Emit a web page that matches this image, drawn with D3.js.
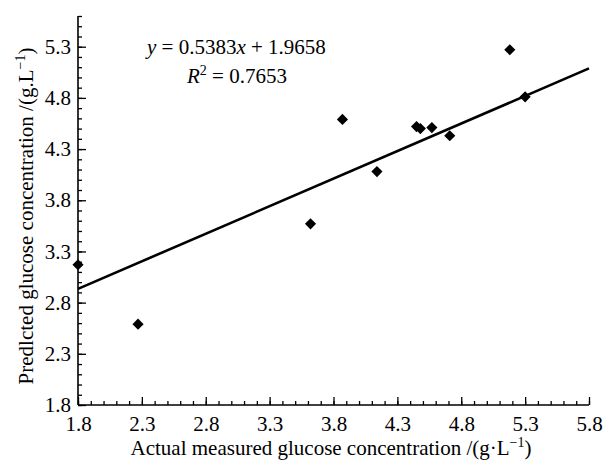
<!DOCTYPE html>
<html>
<head>
<meta charset="utf-8">
<script src="https://cdn.jsdelivr.net/npm/d3@7"></script>
<style>
  body { margin: 0; background: #fff; }
  svg text { font-family: "Liberation Serif", "Times New Roman", serif; fill: #000; }
</style>
</head>
<body>
<div id="chart"></div>
<script>
// measured vs predicted glucose (g/L)
const actualValues = [1.80, 2.27, 3.62, 3.87, 4.14, 4.45, 4.48, 4.57, 4.71, 5.18, 5.30];
const predictedValues = [3.17, 2.59, 3.57, 4.59, 4.08, 4.52, 4.50, 4.51, 4.43, 5.27, 4.81];
const xTickValues = [1.8, 2.3, 2.8, 3.3, 3.8, 4.3, 4.8, 5.3, 5.8];
const yTickValues = [1.8, 2.3, 2.8, 3.3, 3.8, 4.3, 4.8, 5.3];
const slope = 0.5383;
const intercept = 1.9658;

const width = 606;
const height = 464;

const x = d3.scaleLinear().domain([1.8, 5.8]).range([78, 589]);
const y = d3.scaleLinear().domain([1.8, 5.6]).range([405, 16]);

const svg = d3.select('#chart')
  .append('svg')
  .attr('width', width)
  .attr('height', height);

// minor ticks every 0.1
const xMinor = d3.range(18, 59).map(d => d / 10);
const yMinor = d3.range(18, 57).map(d => d / 10);

const xAxis = svg.append('g')
  .attr('transform', `translate(0,${y(1.8)})`)
  .call(d3.axisBottom(x).tickValues(xMinor).tickSize(-4).tickFormat(''));
xAxis.select('.domain').remove();
xAxis.selectAll('line').attr('stroke', '#000').attr('stroke-width', 1.3);

const xMajor = svg.append('g')
  .attr('transform', `translate(0,${y(1.8)})`)
  .call(d3.axisBottom(x).tickValues(xTickValues).tickSize(-8).tickPadding(11).tickFormat(d3.format('.1f')));
xMajor.select('.domain').remove();
xMajor.selectAll('line').attr('stroke', '#000').attr('stroke-width', 1.3);
xMajor.selectAll('text').style('font-size', '21px');

const yAxis = svg.append('g')
  .attr('transform', `translate(${x(1.8)},0)`)
  .call(d3.axisLeft(y).tickValues(yMinor).tickSize(-4).tickFormat(''));
yAxis.select('.domain').remove();
yAxis.selectAll('line').attr('stroke', '#000').attr('stroke-width', 1.3);

const yMajor = svg.append('g')
  .attr('transform', `translate(${x(1.8)},0)`)
  .call(d3.axisLeft(y).tickValues(yTickValues).tickSize(-8).tickPadding(7).tickFormat(d3.format('.1f')));
yMajor.select('.domain').remove();
yMajor.selectAll('line').attr('stroke', '#000').attr('stroke-width', 1.3);
yMajor.selectAll('text').style('font-size', '21px');

// axis lines
svg.append('line')
  .attr('x1', x(1.8)).attr('x2', x(5.8))
  .attr('y1', y(1.8)).attr('y2', y(1.8))
  .attr('stroke', '#000').attr('stroke-width', 1.6);
svg.append('line')
  .attr('x1', x(1.8)).attr('x2', x(1.8))
  .attr('y1', y(1.8)).attr('y2', y(5.6))
  .attr('stroke', '#000').attr('stroke-width', 1.6);

// fit line
svg.append('line')
  .attr('x1', x(1.8)).attr('y1', y(slope * 1.8 + intercept))
  .attr('x2', x(5.8)).attr('y2', y(slope * 5.8 + intercept))
  .attr('stroke', '#000').attr('stroke-width', 2.6);

// points
const diamond = d3.symbol().type(d3.symbolSquare).size(62);
svg.selectAll('.pt')
  .data(actualValues)
  .enter().append('path')
  .attr('class', 'pt')
  .attr('d', diamond)
  .attr('transform', (d, i) => `translate(${x(d)},${y(predictedValues[i])}) rotate(45)`)
  .attr('fill', '#000');

// equation
const eq = svg.append('text').attr('x', 147).attr('y', 54).style('font-size', '21px');
eq.append('tspan').style('font-style', 'italic').text('y');
eq.append('tspan').text(' = 0.5383');
eq.append('tspan').style('font-style', 'italic').text('x');
eq.append('tspan').text(' + 1.9658');

const r2 = svg.append('text').attr('x', 187).attr('y', 83).style('font-size', '21px');
r2.append('tspan').style('font-style', 'italic').text('R');
r2.append('tspan').attr('dy', -8).style('font-size', '14px').text('2');
r2.append('tspan').attr('dy', 8).text(' = 0.7653');

// axis titles
const xt = svg.append('text')
  .attr('x', 331).attr('y', 455)
  .attr('text-anchor', 'middle')
  .style('font-size', '21px');
xt.append('tspan').text('Actual measured glucose concentration /(g\u00b7L');
xt.append('tspan').attr('dy', -8).style('font-size', '14px').text('\u22121');
xt.append('tspan').attr('dy', 8).text(')');

const yt = svg.append('text')
  .attr('transform', 'translate(33,216) rotate(-90)')
  .attr('text-anchor', 'middle')
  .style('font-size', '21px');
yt.append('tspan').text('Predlcted glucose concentration /(g.L');
yt.append('tspan').attr('dy', -8).style('font-size', '14px').text('\u22121');
yt.append('tspan').attr('dy', 8).text(')');
</script>
</body>
</html>
